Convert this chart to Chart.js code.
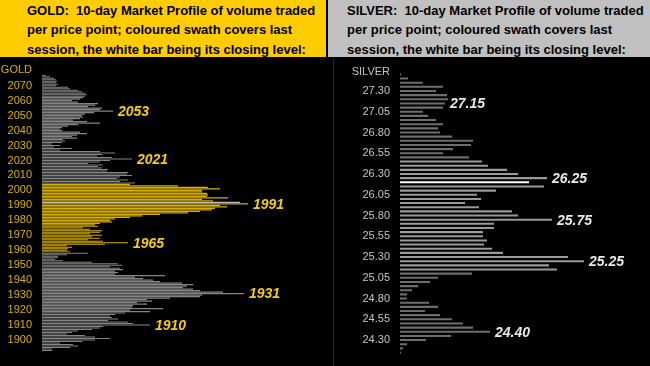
<!DOCTYPE html>
<html>
<head>
<meta charset="utf-8">
<script src="https://cdn.jsdelivr.net/npm/chart.js@4.4.1/dist/chart.umd.min.js"></script>
<style>
  body { margin: 0; background: #000; width: 650px; height: 366px; overflow: hidden; position: relative; }
  .head { position: absolute; top: 0; height: 57px; font: bold 13px "Liberation Sans", Arial, sans-serif; line-height: 19.5px; color: #000; white-space: pre; box-sizing: border-box; padding-top: 0.5px; }
  #goldHead { left: 0; width: 326px; background: #ffcc00; padding-left: 27px; }
  #silverHead { left: 328px; width: 322px; background: #c0c0c0; padding-left: 19px; }
  canvas { position: absolute; top: 58px; }
  #goldCanvas { left: 0; }
  #silverCanvas { left: 335px; }
  #divider { position: absolute; left: 333px; top: 58px; width: 1px; height: 308px; background: #2a2a2a; }
</style>
</head>
<body>
<div class="head" id="goldHead">GOLD:  10-day Market Profile of volume traded
per price point; coloured swath covers last
session, the white bar being its closing level:</div>
<div class="head" id="silverHead">SILVER:  10-day Market Profile of volume traded
per price point; coloured swath covers last
session, the white bar being its closing level:</div>
<div id="divider"></div>
<canvas id="goldCanvas" width="333" height="308"></canvas>
<canvas id="silverCanvas" width="315" height="308"></canvas>
<script>
// Gold: volume per price point, from 2077 down to 1893 (1 point each)
const goldTop = 2077;
const goldVolume = [
  4, 8, 12, 14, 15, 14, 16, 14, 26, 28,        // 2077-2068
  36, 40, 43, 45, 43, 41, 38, 30, 36, 56,      // 2067-2058
  53, 46, 60, 58, 71, 52, 43, 40, 41, 38,      // 2057-2048
  31, 45, 58, 36, 26, 20, 18, 20, 38, 45,      // 2047-2038
  35, 30, 35, 21, 23, 20, 10, 18, 12, 30,      // 2037-2028
  18, 58, 73, 60, 55, 70, 90, 68, 58, 46,      // 2027-2018
  61, 56, 60, 66, 65, 86, 85, 90, 78, 75,      // 2017-2008
  86, 78, 93, 88, 136, 166, 178, 160, 160, 165, // 2007-1998
  166, 165, 186, 160, 171, 198, 206, 178, 185, 173, // 1997-1988
  170, 158, 146, 118, 100, 88, 73, 68, 70, 58, // 1987-1978
  53, 56, 41, 48, 60, 58, 48, 60, 50, 58,      // 1977-1968
  46, 61, 86, 63, 25, 30, 26, 25, 28, 46,      // 1967-1958
  25, 16, 16, 13, 21, 50, 76, 80, 68, 78,      // 1957-1948
  81, 73, 76, 73, 123, 93, 101, 111, 118, 140, // 1947-1938
  151, 145, 141, 151, 158, 181, 202, 160, 158, 128, // 1937-1928
  105, 110, 95, 105, 91, 90, 121, 88, 108, 83, // 1927-1918
  73, 68, 70, 76, 66, 86, 91, 108, 61, 58,     // 1917-1908
  50, 36, 30, 25, 43, 53, 68, 53, 40, 18,      // 1907-1898
  31, 36, 28, 10, 10                           // 1897-1893
];
const goldTicks = [2070, 2060, 2050, 2040, 2030, 2020, 2010, 2000, 1990, 1980, 1970, 1960, 1950, 1940, 1930, 1920, 1910, 1900];
const goldSwath = [1960, 2004];   // last session range
const goldClose = 1992;
const goldNotes = [2053, 2021, 1991, 1965, 1931, 1910];

// Silver: volume per price point, from 27.50 down to 24.15 (0.05 each)
const silverTop = 27.50;
const silverVolume = [
  1, 8, 23, 43, 36, 47, 48, 45, 43, 23,         // 27.50-27.05
  28, 36, 43, 38, 40, 52, 73, 71, 53, 43,       // 27.00-26.55
  69, 82, 88, 107, 118, 147, 129, 144, 96, 77,  // 26.50-26.05
  81, 65, 79, 112, 118, 152, 94, 94, 83, 83,    // 26.00-25.55
  87, 84, 92, 103, 168, 184, 149, 157, 72, 38,  // 25.50-25.05
  30, 18, 12, 7, 7, 29, 38, 25, 40, 52,         // 25.00-24.55
  63, 73, 90, 51, 26, 7, 3, 1                   // 24.50-24.15
];
const silverTicks = [27.30, 27.05, 26.80, 26.55, 26.30, 26.05, 25.80, 25.55, 25.30, 25.05, 24.80, 24.55, 24.30];
const silverSwath = [25.15, 26.45];
const silverClose = 26.20;
const silverNotes = [27.15, 26.25, 25.75, 25.25, 24.40];

const goldPrices = goldVolume.map((v, i) => goldTop - i);
const silverPrices = silverVolume.map((v, i) => Math.round(silverTop * 100 - i * 5) / 100);

// title above the price axis and the level labels next to the bars
const profileText = {
  id: 'profileText',
  afterDraw(chart, args, opts) {
    const ctx = chart.ctx;
    const xs = chart.scales.x, ys = chart.scales.y;
    ctx.save();
    ctx.font = '11px "Liberation Sans", Arial, sans-serif';
    ctx.fillStyle = opts.titleColor;
    ctx.textAlign = 'right';
    ctx.textBaseline = 'middle';
    ctx.fillText(opts.title, chart.chartArea.left - 10, opts.titleY);

    ctx.font = 'italic bold 14px "Liberation Sans", Arial, sans-serif';
    ctx.fillStyle = opts.noteColor;
    ctx.textAlign = 'left';
    opts.notes.forEach(p => {
      const i = opts.prices.findIndex(q => Math.abs(q - p) < 1e-6);
      const x = xs.getPixelForValue(opts.volume[i]) + 5;
      const y = ys.getPixelForValue(p) + 1;
      ctx.fillText(p.toFixed(opts.digits), x, y);
    });
    ctx.restore();
  }
};

function makeProfile(canvasId, prices, volume, cfg) {
  const colors = prices.map(p => {
    if (Math.abs(p - cfg.close) < 1e-6) return cfg.closeColor;
    if (p >= cfg.swath[0] - 1e-6 && p <= cfg.swath[1] + 1e-6) return cfg.swathColor;
    return cfg.baseColor;
  });
  return new Chart(document.getElementById(canvasId), {
    type: 'bar',
    data: {
      datasets: [{
        data: volume.map((v, i) => ({ x: v, y: prices[i] })),
        backgroundColor: colors,
        borderWidth: 0,
        barPercentage: cfg.barPct,
        categoryPercentage: 1
      }]
    },
    options: {
      indexAxis: 'y',
      responsive: false,
      animation: false,
      layout: { padding: { top: cfg.padTop, bottom: cfg.padBottom, left: 0, right: 0 } },
      plugins: {
        legend: { display: false },
        tooltip: { enabled: false },
        profileText: {
          title: cfg.title, titleY: cfg.titleY, titleColor: cfg.tickColor,
          noteColor: cfg.noteColor, notes: cfg.notes, prices: prices, volume: volume, digits: cfg.digits
        }
      },
      scales: {
        x: { type: 'linear', display: false, min: 0, max: cfg.xMax },
        y: {
          type: 'linear',
          offset: false,
          min: cfg.yMin,
          max: cfg.yMax,
          afterBuildTicks: s => { s.ticks = cfg.ticks.map(v => ({ value: v })); },
          afterFit: s => { s.width = cfg.axisWidth; s.paddingTop = 0; s.paddingBottom = 0; },
          grid: { display: false, drawTicks: false, offset: false },
          border: { display: false },
          ticks: {
            color: cfg.tickColor,
            padding: 10,
            autoSkip: false,
            font: { family: '"Liberation Sans", Arial, sans-serif', size: 11 },
            callback: v => Number(v).toFixed(cfg.digits)
          }
        }
      }
    },
    plugins: [profileText]
  });
}

makeProfile('goldCanvas', goldPrices, goldVolume, {
  title: 'GOLD', titleY: 12, tickColor: '#d9b000', noteColor: '#f5cc14',
  baseColor: '#858585', swathColor: '#d6ae00', closeColor: '#bdbdbd',
  swath: goldSwath, close: goldClose, notes: goldNotes, ticks: goldTicks, digits: 0,
  yMin: 1892.5, yMax: 2077.5, xMax: 291, axisWidth: 42, barPct: 0.75,
  padTop: 16.5, padBottom: 14.8
});

makeProfile('silverCanvas', silverPrices, silverVolume, {
  title: 'SILVER', titleY: 13.7, tickColor: '#c4c4c4', noteColor: '#e8e8e8',
  baseColor: '#6e6e6e', swathColor: '#9a9a9a', closeColor: '#ffffff',
  swath: silverSwath, close: silverClose, notes: silverNotes, ticks: silverTicks, digits: 2,
  yMin: 24.125, yMax: 27.525, xMax: 250, axisWidth: 65, barPct: 0.5,
  padTop: 14.3, padBottom: 11.4
});
</script>
</body>
</html>
